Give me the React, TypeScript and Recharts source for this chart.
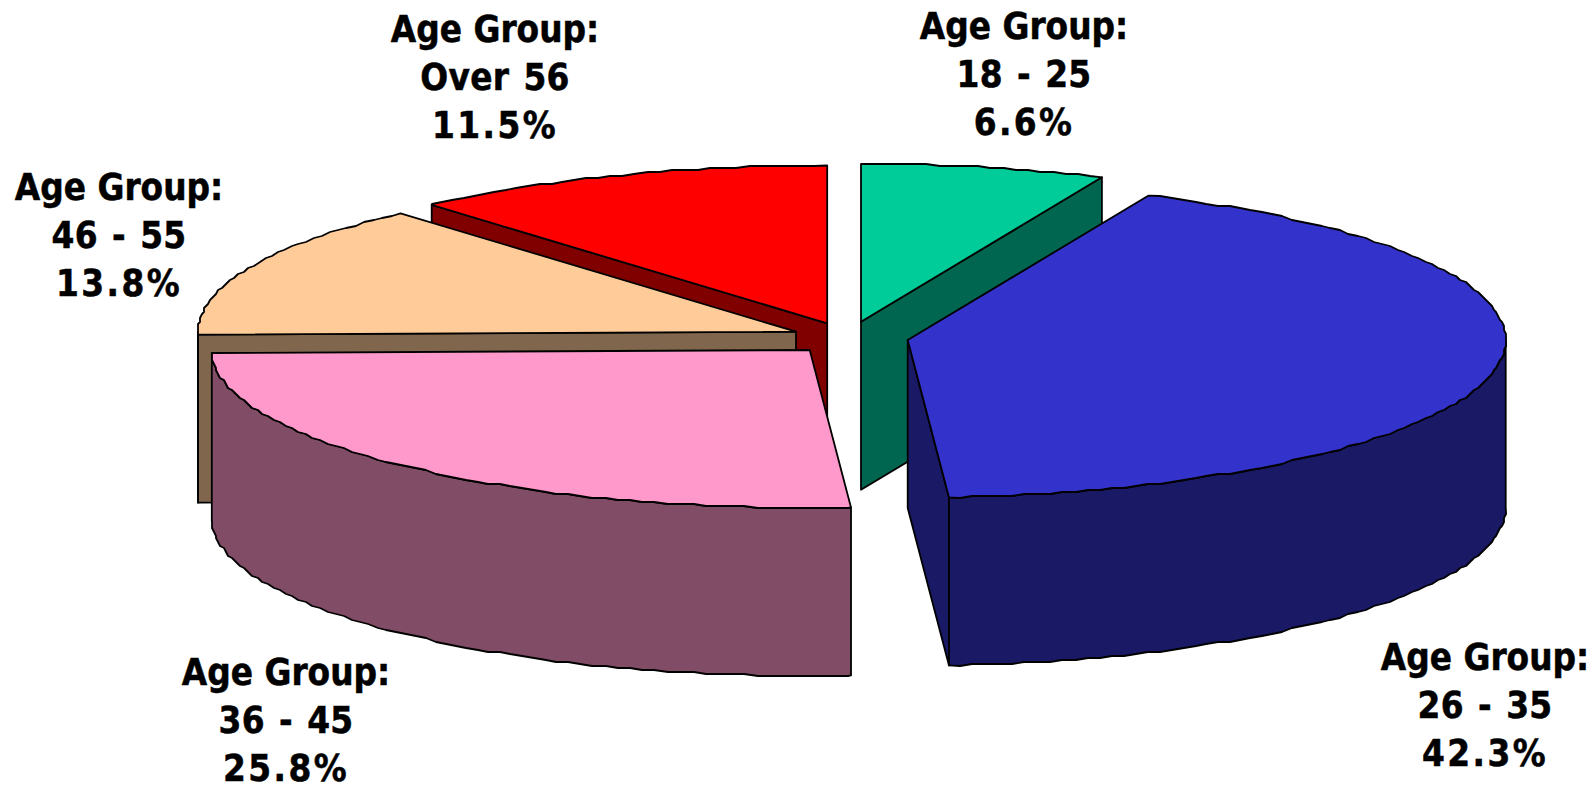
import { PieChart, Pie } from 'recharts';

const ageGroups = ['18 - 25', 'Over 56', '46 - 55', '36 - 45', '26 - 35'];
const shares = [6.6, 11.5, 13.8, 25.8, 42.3];

const topColors = ['#00CC99', '#FF0000', '#FFCC99', '#FF99CC', '#3333CC'];
const sideColors = ['#006650', '#800000', '#80664C', '#804C66', '#191966'];

// how far each slice is pulled out of the pie
const offsetsX = [1, -32.8, -64, -50.3, 47.7];
const offsetsY = [-8.3, -6.7, 1.7, 20, 10];

const labelX = [1024, 495, 119, 286, 1485];
const labelY = [39, 42, 200, 685, 670];

const WIDTH = 1596;
const HEIGHT = 785;
const CX = 860;
const CY = 330;
const RADIUS = 598;
const SQUASH = 157.8 / 598;
const DEPTH = 168;
const START = 90 - 3.6 * shares[0];
const STEP = 1.25;

const rad = (a: number) => (a * Math.PI) / 180;

// the original edge is a bit bumpy, so snap arc points to a coarse grid
const snap = (v: number) => Math.round(v / 2) * 2;

function arcPoints(x: number, y: number, r: number, from: number, to: number) {
  const at = (deg: number, snapped: boolean): [number, number] => {
    const px = x + r * Math.cos(rad(deg));
    const py = y - r * SQUASH * Math.sin(rad(deg));
    return snapped ? [snap(px), snap(py)] : [px, py];
  };
  const pts: [number, number][] = [at(from, false)];
  for (let d = Math.ceil(from / STEP + 0.01) * STEP; d < to - 0.01; d += STEP) pts.push(at(d, true));
  pts.push(at(to, false));
  return pts;
}

const toPath = (pts: [number, number][]) =>
  'M' + pts.map((p) => `${p[0].toFixed(1)},${p[1].toFixed(1)}`).join('L') + 'Z';

function Slice3D(props: any) {
  const { cx, cy, outerRadius, startAngle, endAngle, index } = props;
  const x = cx + offsetsX[index];
  const y = cy + offsetsY[index];
  const s = Math.min(startAngle, endAngle);
  const e = Math.max(startAngle, endAngle);
  const edge = (a: number): [number, number] => [
    x + outerRadius * Math.cos(rad(a)),
    y - outerRadius * SQUASH * Math.sin(rad(a)),
  ];
  const wall = (a: number) => {
    const p = edge(a);
    return toPath([[x, y], p, [p[0], p[1] + DEPTH], [x, y + DEPTH]]);
  };
  const lineProps = { stroke: '#000', strokeWidth: 1.8, strokeLinejoin: 'round' as const };

  const frontFrom = Math.max(s, 180);
  const frontTo = Math.min(e, 360);
  const front = frontTo > frontFrom ? arcPoints(x, y, outerRadius, frontFrom, frontTo) : null;

  return (
    <g>
      {Math.cos(rad(s)) > 0.001 && <path d={wall(s)} fill={sideColors[index]} {...lineProps} />}
      {-Math.cos(rad(e)) > 0.001 && <path d={wall(e)} fill={sideColors[index]} {...lineProps} />}
      {front && (
        <path
          d={toPath([...front, ...front.map((p) => [p[0], p[1] + DEPTH] as [number, number]).reverse()])}
          fill={sideColors[index]}
          {...lineProps}
        />
      )}
      <path d={toPath([[x, y], ...arcPoints(x, y, outerRadius, s, e)])} fill={topColors[index]} {...lineProps} />
    </g>
  );
}

function SliceLabel(props: any) {
  const { index, name, value } = props;
  const x = labelX[index];
  const font = { fontFamily: '"DejaVu Sans Condensed", "DejaVu Sans"', fontStretch: 'condensed' };
  return (
    <text
      x={x}
      y={labelY[index]}
      textAnchor="middle"
      fill="#000"
      stroke="#000"
      strokeWidth={0.5}
      style={{ fontWeight: 700, fontSize: 36.5 }}
    >
      <tspan x={x} style={font}>Age Group:</tspan>
      <tspan x={x} dy={48} style={{ ...font, wordSpacing: 2.5, letterSpacing: 0.3 }}>{name}</tspan>
      <tspan x={x} dy={48} style={{ ...font, letterSpacing: 2.4 }}>{value}%</tspan>
    </text>
  );
}

const data = ageGroups.map((name, i) => ({ name, value: shares[i] }));

export default function App() {
  return (
    <div style={{ position: 'absolute', left: 0, top: 0, width: WIDTH, height: HEIGHT, background: '#fff' }}>
      <PieChart width={WIDTH} height={HEIGHT} margin={{ top: 0, right: 0, bottom: 0, left: 0 }}>
        <Pie
          data={data}
          dataKey="value"
          nameKey="name"
          cx={CX}
          cy={CY}
          innerRadius={0}
          outerRadius={RADIUS}
          startAngle={START}
          endAngle={START + 360}
          shape={Slice3D}
          label={SliceLabel}
          labelLine={false}
          stroke="none"
          isAnimationActive={false}
        />
      </PieChart>
    </div>
  );
}
